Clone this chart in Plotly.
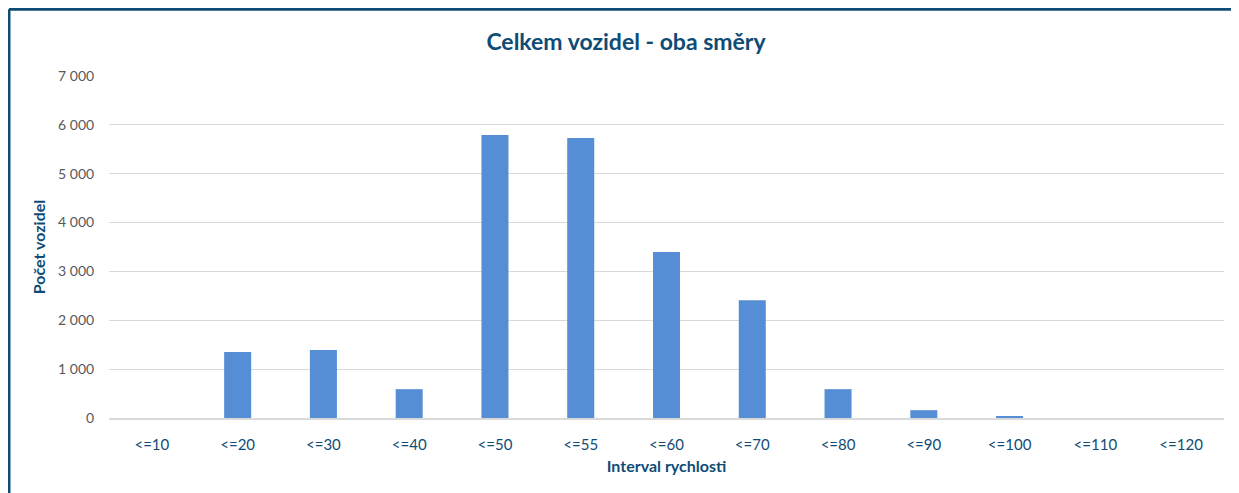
import plotly.graph_objects as go

categories = ["<=10", "<=20", "<=30", "<=40", "<=50", "<=55", "<=60",
              "<=70", "<=80", "<=90", "<=100", "<=110", "<=120"]
counts = [0, 1350, 1390, 590, 5790, 5730, 3400, 2410, 590, 160, 40, 0, 0]
y_ticks = [0, 1000, 2000, 3000, 4000, 5000, 6000, 7000]
y_tick_labels = ["0", "1 000", "2 000", "3 000", "4 000", "5 000", "6 000", "7 000"]

DARK_BLUE = "#0F4C75"
BAR_BLUE = "#558ED5"
GRID = "#D9D9D9"
FONT = "Lato, 'Open Sans', sans-serif"

fig = go.Figure(go.Bar(
    x=categories,
    y=counts,
    marker=dict(color=BAR_BLUE, line=dict(width=0)),
    hovertemplate="%{x}: %{y}<extra></extra>",
))

# page body adds an 8px offset, so the figure is sized/margined for that
fig.update_layout(
    width=1231,
    height=485,
    paper_bgcolor="white",
    plot_bgcolor="white",
    font=dict(family=FONT),
    showlegend=False,
    bargap=0.685,
    margin=dict(l=101, r=15, t=68, b=75),
    title=dict(
        text="<b>Celkem vozidel - oba směry</b>",
        font=dict(size=23, color=DARK_BLUE, family=FONT),
        x=0.502, xanchor="center",
        y=0.93, yanchor="middle",
    ),
    xaxis=dict(
        title=dict(text="<b>Interval rychlosti</b>",
                   font=dict(size=16, color=DARK_BLUE), standoff=9),
        tickfont=dict(size=15, color=DARK_BLUE),
        ticks="outside", ticklen=12, tickcolor="rgba(0,0,0,0)",
        showline=True, linecolor=GRID, linewidth=2,
        showgrid=False,
    ),
    yaxis=dict(
        title=dict(text="<b>Počet vozidel</b>",
                   font=dict(size=16, color=DARK_BLUE), standoff=8),
        range=[0, 7000],
        tickvals=y_ticks,
        ticktext=y_tick_labels,
        tickfont=dict(size=14, color="#595959"),
        ticks="outside", ticklen=11, tickcolor="rgba(0,0,0,0)",
        gridcolor=GRID, gridwidth=1,
        zeroline=False,
    ),
    shapes=[
        dict(type="line", xref="paper", yref="paper",
             x0=-0.0897, x1=1.05, y0=1.1955, y1=1.1955,
             line=dict(color=DARK_BLUE, width=3)),
        dict(type="line", xref="paper", yref="paper",
             x0=-0.0897, x1=-0.0897, y0=-0.3, y1=1.1955,
             line=dict(color=DARK_BLUE, width=3)),
    ],
)

fig.write_html("out.html")
